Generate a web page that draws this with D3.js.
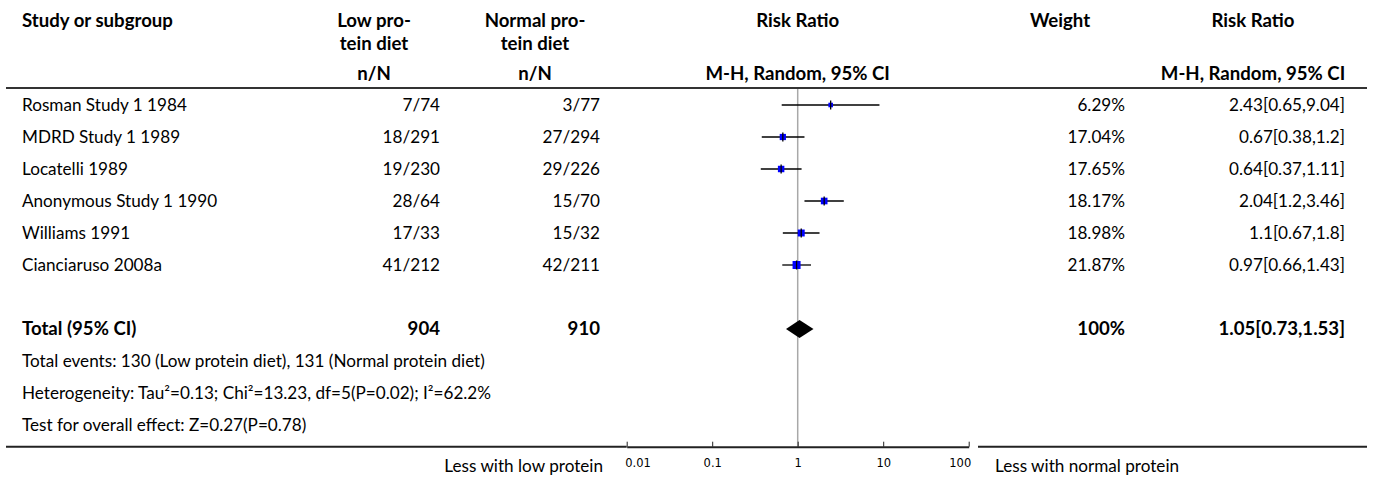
<!DOCTYPE html>
<html><head><meta charset="utf-8">
<script src="https://cdn.jsdelivr.net/npm/d3@7"></script>
<style>body{margin:0;background:#fff} svg{display:block}</style>
</head><body>
<script>
// ---- data ----
const studies = ["Rosman Study 1 1984", "MDRD Study 1 1989", "Locatelli 1989", "Anonymous Study 1 1990", "Williams 1991", "Cianciaruso 2008a"];
const lowEvents = [7, 18, 19, 28, 17, 41];
const lowTotal = [74, 291, 230, 64, 33, 212];
const normEvents = [3, 27, 29, 15, 15, 42];
const normTotal = [77, 294, 226, 70, 32, 211];
const weights = [6.29, 17.04, 17.65, 18.17, 18.98, 21.87];
const rr = [2.43, 0.67, 0.64, 2.04, 1.1, 0.97];
const rrLow = [0.65, 0.38, 0.37, 1.2, 0.67, 0.66];
const rrHigh = [9.04, 1.2, 1.11, 3.46, 1.8, 1.43];
const totalLowN = 904, totalNormN = 910, totalWeight = 100;
const totalRR = 1.05, totalLow = 0.73, totalHigh = 1.53;
const footnotes = [
  "Total events: 130 (Low protein diet), 131 (Normal protein diet)",
  "Heterogeneity: Tau\u00B2=0.13; Chi\u00B2=13.23, df=5(P=0.02); I\u00B2=62.2%",
  "Test for overall effect: Z=0.27(P=0.78)"
];
const tickValues = [0.01, 0.1, 1, 10, 100];
const tickLabels = ["0.01", "0.1", "1", "10", "100"];

// ---- layout ----
const W = 1375, H = 477;
const FONT = "Lato, 'Noto Sans', sans-serif";
const svg = d3.select("body").append("svg").attr("width", W).attr("height", H)
  .attr("font-family", FONT).attr("fill", "#000");

function fit(str, weight, target) {
  const t = svg.append("text").attr("font-weight", weight).attr("font-size", 100).text(str);
  const w = t.node().getComputedTextLength(); t.remove();
  return 100 * target / w;
}
const fsReg = fit("Rosman Study 1 1984", 400, 165);
const fsBold = fit("Study or subgroup", 700, 151);

const x = d3.scaleLog().domain([0.01, 100]).range([626.7, 968.7]);
const y = d3.scaleLinear().domain([0, 1]).range([105, 137]); // row index -> centre
const boxSize = d3.scaleLinear().domain([0, d3.max(weights)]).range([0, 8]);

const colName = 22, colLow = 440, colNorm = 600, colW = 1125, colRR = 1345;
const hdrLow = 374, hdrNorm = 535, hdrW = 1060, hdrRR = 1253;
const axisY = 446.7, hdrLineY = 88;

function txt(xx, yy, s, anchor, bold) {
  svg.append("text").attr("x", xx).attr("y", yy).attr("text-anchor", anchor || "start")
    .attr("font-size", bold ? fsBold : fsReg).attr("font-weight", bold ? 700 : 400).text(s);
}

// headers
txt(colName, 27, "Study or subgroup", "start", true);
txt(hdrLow, 27, "Low pro-", "middle", true);
txt(hdrLow, 50, "tein diet", "middle", true);
txt(hdrLow, 80, "n/N", "middle", true);
txt(hdrNorm, 27, "Normal pro-", "middle", true);
txt(hdrNorm, 50, "tein diet", "middle", true);
txt(hdrNorm, 80, "n/N", "middle", true);
txt(x(1), 27, "Risk Ratio", "middle", true);
txt(x(1), 80, "M-H, Random, 95% CI", "middle", true);
txt(hdrW, 27, "Weight", "middle", true);
txt(hdrRR, 27, "Risk Ratio", "middle", true);
txt(hdrRR, 80, "M-H, Random, 95% CI", "middle", true);

svg.append("line").attr("x1", 6).attr("x2", 1367).attr("y1", hdrLineY).attr("y2", hdrLineY)
  .attr("stroke", "#333").attr("stroke-width", 2);

// reference line at 1
svg.append("line").attr("x1", x(1)).attr("x2", x(1)).attr("y1", hdrLineY + 1).attr("y2", axisY)
  .attr("stroke", "#a8a8a8").attr("stroke-width", 1.5);

// study rows
studies.forEach((s, i) => {
  const cy = y(i), by = cy + 6;
  txt(colName, by, s);
  txt(colLow, by, lowEvents[i] + "/" + lowTotal[i], "end");
  txt(colNorm, by, normEvents[i] + "/" + normTotal[i], "end");
  txt(colW, by, weights[i] + "%", "end");
  txt(colRR, by, rr[i] + "[" + rrLow[i] + "," + rrHigh[i] + "]", "end");
  svg.append("line").attr("x1", x(rrLow[i])).attr("x2", x(rrHigh[i])).attr("y1", cy).attr("y2", cy)
    .attr("stroke", "#000").attr("stroke-width", 1.3);
  const b = Math.max(4.6, boxSize(weights[i]));
  svg.append("rect").attr("x", x(rr[i]) - b / 2).attr("y", cy - b / 2).attr("width", b).attr("height", b)
    .attr("fill", "#0000ff");
  svg.append("line").attr("x1", x(rr[i])).attr("x2", x(rr[i])).attr("y1", cy - 4.5).attr("y2", cy + 4.5)
    .attr("stroke", "#000").attr("stroke-width", 1.3);
});

// total row
const ty = y(7);
txt(colName, ty + 6, "Total (95% CI)", "start", true);
txt(colLow, ty + 6, totalLowN, "end", true);
txt(colNorm, ty + 6, totalNormN, "end", true);
txt(colW, ty + 6, totalWeight + "%", "end", true);
txt(colRR, ty + 6, totalRR + "[" + totalLow + "," + totalHigh + "]", "end", true);
svg.append("path").attr("d", d3.line()([[x(totalLow), ty], [x(totalRR), ty - 9], [x(totalHigh), ty], [x(totalRR), ty + 9]]) + "Z")
  .attr("fill", "#000");

footnotes.forEach((f, k) => txt(colName, y(8 + k) + 6, f));

// bottom lines + axis
svg.append("line").attr("x1", 6).attr("x2", x(0.01)).attr("y1", axisY).attr("y2", axisY)
  .attr("stroke", "#222").attr("stroke-width", 2);
svg.append("line").attr("x1", 978).attr("x2", 1367).attr("y1", axisY).attr("y2", axisY)
  .attr("stroke", "#222").attr("stroke-width", 2);

const axis = d3.axisBottom(x).tickValues(tickValues).tickFormat((d, i) => tickLabels[i])
  .tickSizeInner(-5).tickSizeOuter(0).tickPadding(12);
const ag = svg.append("g").attr("transform", `translate(0,${axisY})`).call(axis);
ag.select(".domain").attr("stroke", "#222").attr("stroke-width", 2);
ag.selectAll(".tick line").attr("stroke", "#222");
ag.selectAll(".tick text").attr("font-family", "'DejaVu Sans', sans-serif").attr("font-size", 11.5).attr("fill", "#000");
ag.selectAll(".tick text").filter((d, i) => i === 0).attr("text-anchor", "start").attr("dx", -2);
ag.selectAll(".tick text").filter((d, i) => i === tickValues.length - 1).attr("text-anchor", "end").attr("dx", 2);

txt(603, 472, "Less with low protein", "end");
txt(995, 472, "Less with normal protein", "start");
</script>
</body></html>
